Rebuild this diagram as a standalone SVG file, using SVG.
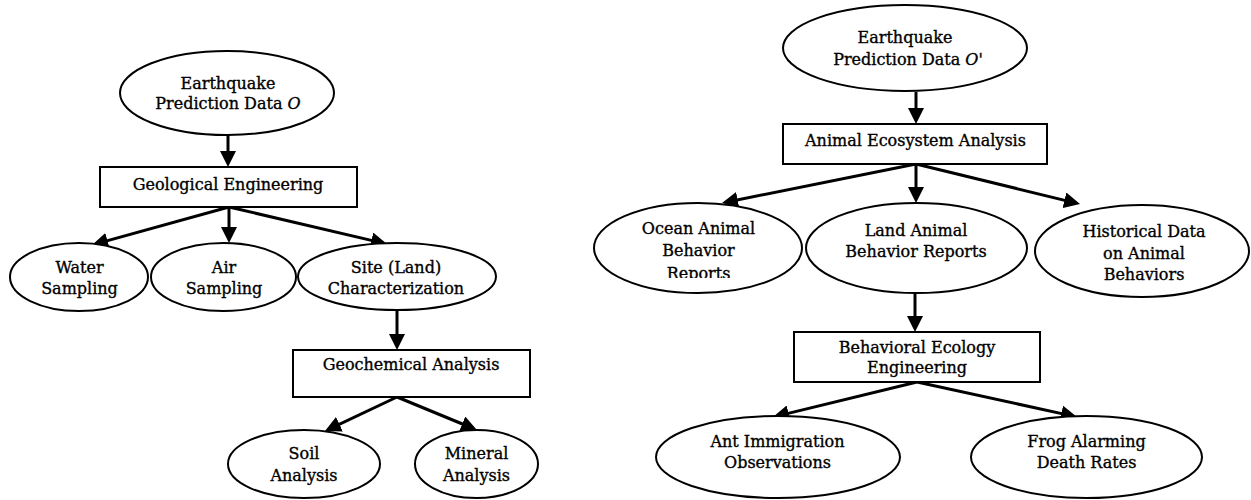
<svg xmlns="http://www.w3.org/2000/svg" width="1251" height="500" viewBox="0 0 1251 500">
<style>
.sh{fill:#fff;stroke:#000;stroke-width:2}
.t{font-family:"DejaVu Serif","Liberation Serif",serif;font-size:16px;fill:#000;stroke:#000;stroke-width:0.35;text-anchor:middle}
.c{stroke:#000;stroke-width:3;fill:none;marker-end:url(#ah)}
</style>
<defs>
<marker id="ah" markerUnits="userSpaceOnUse" markerWidth="16" markerHeight="16" refX="12" refY="8" orient="auto"><path d="M0,0 L16,8 L0,16 z" fill="#000"/></marker>
<clipPath id="oclip"><rect x="590" y="200" width="220" height="78"/></clipPath>
</defs>
<rect width="1251" height="500" fill="#fff"/>
<g id="connectors">
<line class="c" x1="228" y1="135" x2="228" y2="163"/>
<line class="c" x1="229" y1="207" x2="95.9" y2="243.9"/>
<line class="c" x1="229" y1="207" x2="229" y2="239"/>
<line class="c" x1="229" y1="207" x2="383.1" y2="243.1"/>
<line class="c" x1="397" y1="310" x2="397" y2="346"/>
<line class="c" x1="397" y1="397" x2="328.6" y2="429.3"/>
<line class="c" x1="397" y1="397" x2="473.3" y2="428.5"/>
<line class="c" x1="916" y1="92" x2="916" y2="120"/>
<line class="c" x1="916" y1="164" x2="725.9" y2="202.2"/>
<line class="c" x1="916" y1="164" x2="916" y2="199"/>
<line class="c" x1="916" y1="164" x2="1076.1" y2="203.1"/>
<line class="c" x1="915" y1="293" x2="915" y2="328"/>
<line class="c" x1="917" y1="382" x2="776.9" y2="416.1"/>
<line class="c" x1="917" y1="382" x2="1073.1" y2="416.1"/>
</g>
<g id="eqO">
<ellipse class="sh" cx="227" cy="93" rx="107" ry="42"/>
<text class="t" x="228" y="89">Earthquake</text>
<text class="t" x="228" y="109">Prediction Data <tspan font-style="italic">O</tspan></text>
</g>
<g id="geoEng">
<rect class="sh" x="100" y="167" width="257" height="40"/>
<text class="t" x="228" y="190">Geological Engineering</text>
</g>
<g id="water">
<ellipse class="sh" cx="79" cy="277" rx="69" ry="34"/>
<text class="t" x="79.5" y="273">Water</text>
<text class="t" x="79.5" y="294">Sampling</text>
</g>
<g id="air">
<ellipse class="sh" cx="223.5" cy="277" rx="72.5" ry="34"/>
<text class="t" x="224" y="273">Air</text>
<text class="t" x="224" y="294">Sampling</text>
</g>
<g id="site">
<ellipse class="sh" cx="397" cy="276.5" rx="99" ry="33.5"/>
<text class="t" x="396" y="273">Site (Land)</text>
<text class="t" x="396" y="294">Characterization</text>
</g>
<g id="geochem">
<rect class="sh" x="293" y="350" width="237" height="47"/>
<text class="t" x="411" y="370">Geochemical Analysis</text>
</g>
<g id="soil">
<ellipse class="sh" cx="304" cy="464" rx="76" ry="34"/>
<text class="t" x="304" y="459">Soil</text>
<text class="t" x="304" y="481">Analysis</text>
</g>
<g id="mineral">
<ellipse class="sh" cx="476.5" cy="464" rx="61.5" ry="34"/>
<text class="t" x="476.5" y="459">Mineral</text>
<text class="t" x="476.5" y="481">Analysis</text>
</g>
<g id="eqO2">
<ellipse class="sh" cx="905" cy="48" rx="122" ry="43"/>
<text class="t" x="905" y="43">Earthquake</text>
<text class="t" x="908" y="65">Prediction Data <tspan font-style="italic">O'</tspan></text>
</g>
<g id="animalEco">
<rect class="sh" x="783" y="124" width="264" height="40"/>
<text class="t" x="915.5" y="146">Animal Ecosystem Analysis</text>
</g>
<g id="ocean">
<ellipse class="sh" cx="698" cy="248" rx="104" ry="45"/>
<g clip-path="url(#oclip)">
<text class="t" x="698.5" y="234">Ocean Animal</text>
<text class="t" x="698.5" y="256">Behavior</text>
<text class="t" x="698.5" y="279">Reports</text>
</g>
</g>
<g id="land">
<ellipse class="sh" cx="916.5" cy="248" rx="110.5" ry="45"/>
<text class="t" x="916" y="236">Land Animal</text>
<text class="t" x="916" y="257">Behavior Reports</text>
</g>
<g id="historical">
<ellipse class="sh" cx="1142" cy="251" rx="107" ry="46"/>
<text class="t" x="1144" y="237">Historical Data</text>
<text class="t" x="1144" y="259">on Animal</text>
<text class="t" x="1144" y="280">Behaviors</text>
</g>
<g id="behavEco">
<rect class="sh" x="794" y="332" width="246" height="50"/>
<text class="t" x="917" y="353">Behavioral Ecology</text>
<text class="t" x="917" y="373">Engineering</text>
</g>
<g id="ant">
<ellipse class="sh" cx="778" cy="457" rx="122" ry="41"/>
<text class="t" x="777.5" y="447">Ant Immigration</text>
<text class="t" x="777.5" y="468">Observations</text>
</g>
<g id="frog">
<ellipse class="sh" cx="1086.5" cy="457" rx="115.5" ry="41"/>
<text class="t" x="1086.5" y="447">Frog Alarming</text>
<text class="t" x="1086.5" y="468">Death Rates</text>
</g>
</svg>
